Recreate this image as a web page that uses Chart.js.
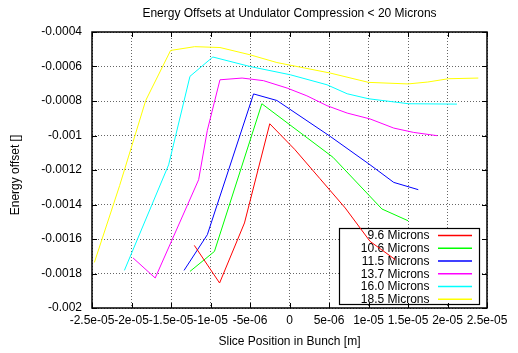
<!DOCTYPE html>
<html>
<head>
<meta charset="utf-8">
<script src="https://cdn.jsdelivr.net/npm/chart.js@4/dist/chart.umd.min.js"></script>
<style>
  html, body { margin: 0; padding: 0; background: #fff; }
  #wrap { width: 518px; height: 353px; }
</style>
</head>
<body>
<div id="wrap"><canvas id="c" width="518" height="353"></canvas></div>
<script>
// Series labels and colours
const seriesLabels = ['9.6 Microns', '10.6 Microns', '11.5 Microns', '13.7 Microns', '16.0 Microns', '18.5 Microns'];
const seriesColors = ['#ff0000', '#00ff00', '#0000ff', '#ff00ff', '#00ffff', '#ffff00'];

// Slice position [m] and energy offset for each compression
const pos96  = [-12.05e-6, -8.85e-6, -5.7e-6, -2.5e-6, 0.65e-6, 3.85e-6, 7.05e-6, 10.2e-6, 13.4e-6];
const off96  = [-0.001637, -0.001855, -0.001507, -0.000932, -0.00108, -0.00125, -0.00142, -0.001614, -0.00172];

const pos106 = [-12.6e-6, -9.5e-6, -3.5e-6, 5.5e-6, 11.7e-6, 15.0e-6];
const off106 = [-0.001788, -0.001672, -0.000816, -0.001126, -0.001426, -0.001494];

const pos115 = [-13.35e-6, -10.4e-6, -4.55e-6, -1.6e-6, 5.15e-6, 10.2e-6, 13.2e-6, 16.3e-6];
const off115 = [-0.001782, -0.001575, -0.000759, -0.000797, -0.001005, -0.00117, -0.001272, -0.001314];

const pos137 = [-19.8e-6, -17.0e-6, -11.5e-6, -10.4e-6, -8.8e-6, -6.0e-6, -3.3e-6, -0.3e-6, 2.2e-6, 4.75e-6, 7.3e-6, 10.2e-6, 13.2e-6, 15.7e-6, 18.7e-6];
const off137 = [-0.00171, -0.001826, -0.001256, -0.00097, -0.000677, -0.000667, -0.000682, -0.000725, -0.00077, -0.000827, -0.00087, -0.000904, -0.000957, -0.000982, -0.001001];

const pos160 = [-20.9e-6, -15.3e-6, -12.6e-6, -9.7e-6, -5.0e-6, 0.1e-6, 4.75e-6, 7.3e-6, 10.0e-6, 15.1e-6, 21.2e-6];
const off160 = [-0.001782, -0.00117, -0.000657, -0.000545, -0.0006, -0.000648, -0.000706, -0.000758, -0.000787, -0.000816, -0.000818];

const pos185 = [-24.7e-6, -21.5e-6, -18.2e-6, -15.05e-6, -12.0e-6, -8.8e-6, -5.0e-6, -1.6e-6, 5.15e-6, 10.0e-6, 15.0e-6, 17.5e-6, 20.1e-6, 23.9e-6];
const off185 = [-0.001736, -0.00129, -0.000797, -0.000507, -0.000485, -0.00049, -0.000532, -0.000577, -0.000638, -0.000692, -0.000701, -0.00069, -0.000671, -0.000667];

// Axis ticks
const xTickValues = [-2.5e-5, -2e-5, -1.5e-5, -1e-5, -5e-6, 0, 5e-6, 1e-5, 1.5e-5, 2e-5, 2.5e-5];
const xTickLabels = ['-2.5e-05', '-2e-05', '-1.5e-05', '-1e-05', '-5e-06', '0', '5e-06', '1e-05', '1.5e-05', '2e-05', '2.5e-05'];
const yTickValues = [-0.002, -0.0018, -0.0016, -0.0014, -0.0012, -0.001, -0.0008, -0.0006, -0.0004];
const yTickLabels = ['-0.002', '-0.0018', '-0.0016', '-0.0014', '-0.0012', '-0.001', '-0.0008', '-0.0006', '-0.0004'];

const seriesPos = [pos96, pos106, pos115, pos137, pos160, pos185];
const seriesOff = [off96, off106, off115, off137, off160, off185];

const FONT = '"Liberation Sans", Arial, sans-serif';

const datasets = seriesLabels.map((label, i) => ({
  label,
  data: seriesPos[i].map((x, k) => ({ x, y: seriesOff[i][k] })),
  borderColor: seriesColors[i],
  backgroundColor: seriesColors[i],
  borderWidth: 1,
  pointRadius: 0,
  showLine: true,
  tension: 0
}));

// Frame, inward tick marks and a boxed key drawn under the curves
const framePlugin = {
  id: 'frameAndKey',
  beforeDatasetsDraw(chart) {
    const { ctx, chartArea: a, scales } = chart;
    ctx.save();
    // key box
    const kx = 339.5, ky = 228.5, kw = 140, kh = 76;
    ctx.fillStyle = '#fff';
    ctx.fillRect(kx, ky, kw, kh);
    ctx.strokeStyle = '#000';
    ctx.lineWidth = 1.2;
    ctx.strokeRect(kx, ky, kw, kh);
    ctx.font = '12px ' + FONT;
    ctx.textAlign = 'right';
    ctx.textBaseline = 'middle';
    seriesLabels.forEach((label, i) => {
      const ry = 235.5 + i * 12.75;
      ctx.fillStyle = '#000';
      ctx.fillText(label, 429.5, ry + 0.5);
      ctx.strokeStyle = seriesColors[i];
      ctx.lineWidth = 1.3;
      ctx.beginPath();
      ctx.moveTo(438, ry);
      ctx.lineTo(472, ry);
      ctx.stroke();
    });
    // frame
    ctx.strokeStyle = '#000';
    ctx.lineWidth = 1.5;
    ctx.strokeRect(a.left, a.top, a.right - a.left, a.bottom - a.top);
    // inward tick marks on all sides
    ctx.lineWidth = 1;
    const t = 5;
    ctx.beginPath();
    xTickValues.forEach(v => {
      const px = Math.round(scales.x.getPixelForValue(v)) + 0.5;
      ctx.moveTo(px, a.bottom); ctx.lineTo(px, a.bottom - t);
      ctx.moveTo(px, a.top); ctx.lineTo(px, a.top + t);
    });
    yTickValues.forEach(v => {
      const py = Math.round(scales.y.getPixelForValue(v)) + 0.5;
      ctx.moveTo(a.left, py); ctx.lineTo(a.left + t, py);
      ctx.moveTo(a.right, py); ctx.lineTo(a.right - t, py);
    });
    ctx.stroke();
    ctx.restore();
  },
  afterDraw(chart) {
    const { ctx } = chart;
    ctx.save();
    ctx.font = '12px ' + FONT;
    ctx.fillStyle = '#000';
    ctx.textAlign = 'center';
    ctx.textBaseline = 'middle';
    ctx.translate(16, 175);
    ctx.rotate(-Math.PI / 2);
    ctx.fillText('Energy offset []', 0, 0);
    ctx.restore();
  }
};

const gridStyle = {
  color: 'rgba(0,0,0,0.6)',
  lineWidth: 1,
  drawTicks: false
};

new Chart(document.getElementById('c'), {
  type: 'scatter',
  data: { datasets },
  options: {
    responsive: false,
    devicePixelRatio: 1,
    animation: false,
    layout: { padding: { left: 0, right: 31, top: 0, bottom: 0 } },
    plugins: {
      legend: { display: false },
      tooltip: { enabled: false },
      title: {
        display: true,
        fullSize: false,
        text: 'Energy Offsets at Undulator Compression < 20 Microns',
        color: '#000',
        font: { family: FONT, size: 12, weight: 'normal' },
        padding: { top: 6, bottom: 11.6 }
      }
    },
    scales: {
      x: {
        type: 'linear',
        min: -2.5e-5,
        max: 2.5e-5,
        afterBuildTicks: s => { s.ticks = xTickValues.map(v => ({ value: v })); },
        afterFit: s => { s.height = 45; },
        grid: gridStyle,
        border: { display: false, dash: [1, 2] },
        ticks: {
          autoSkip: false,
          maxRotation: 0,
          minRotation: 0,
          padding: 5.5,
          color: '#000',
          font: { family: FONT, size: 12 },
          callback: (v, i) => xTickLabels[i]
        },
        title: {
          display: true,
          text: 'Slice Position in Bunch [m]',
          color: '#000',
          font: { family: FONT, size: 12 },
          padding: { top: 0, bottom: 4.3 }
        }
      },
      y: {
        type: 'linear',
        min: -0.002,
        max: -0.0004,
        afterBuildTicks: s => { s.ticks = yTickValues.map(v => ({ value: v })); },
        afterFit: s => { s.width = 92; },
        grid: gridStyle,
        border: { display: false, dash: [1, 2] },
        ticks: {
          autoSkip: false,
          padding: 10,
          color: '#000',
          font: { family: FONT, size: 12 },
          callback: (v, i) => yTickLabels[i]
        }
      }
    }
  },
  plugins: [framePlugin]
});
</script>
</body>
</html>
